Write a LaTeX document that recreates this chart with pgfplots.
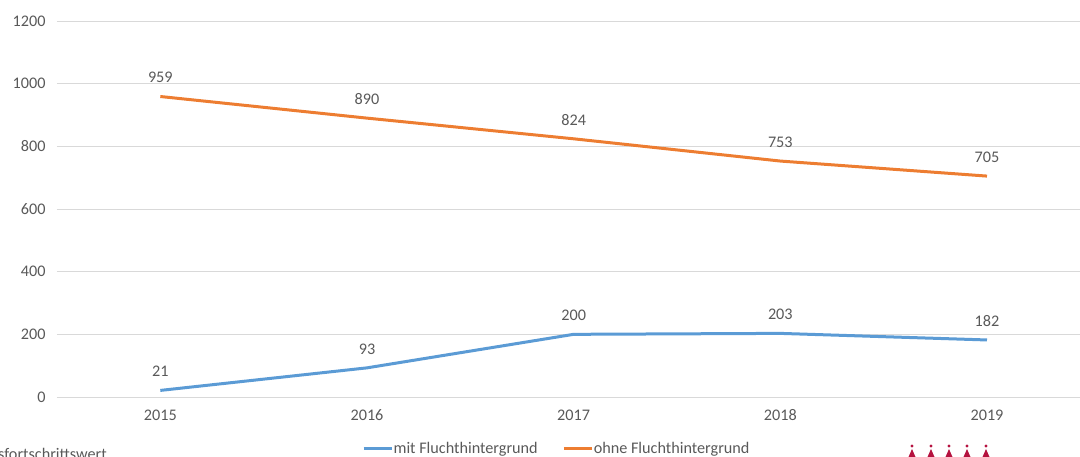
\documentclass[border=0pt]{standalone}
\usepackage{fontspec}
\setmainfont{Carlito}
\usepackage{pgfplots}
\pgfplotsset{compat=1.18}
\definecolor{cblue}{HTML}{5B9BD5}
\definecolor{corange}{HTML}{ED7D31}
\definecolor{tgray}{HTML}{595959}
\definecolor{ggray}{HTML}{D9D9D9}
\definecolor{cred}{HTML}{B5123F}
\begin{document}
\begin{tikzpicture}[x=1pt,y=1pt]
\useasboundingbox (0,0) rectangle (1080,457);
\clip (0,0) rectangle (1080,457);
\begin{axis}[at={(57pt,60pt)}, anchor=south west, scale only axis,
  width=1023pt, height=376pt,
  xmin=-0.5, xmax=4.45, ymin=0, ymax=1200,
  ytick={0,200,...,1200}, xtick={0,1,2,3,4},
  xticklabels={2015,2016,2017,2018,2019},
  ymajorgrids, grid style={ggray, line width=0.8pt},
  axis line style={draw=none}, tick style={draw=none},
  major tick length=0pt,
  /pgf/number format/1000 sep={},
  /pgf/number format/assume math mode=true,
  tick label style={font=\fontsize{16.2}{19}\selectfont, text=tgray},
  yticklabel style={xshift=-8pt},
  xticklabel style={yshift=-9pt},
  nodes near coords,
  every node near coord/.append style={font=\fontsize{16.2}{19}\selectfont, text=tgray, anchor=center, yshift=19pt},
  legend style={at={(0.298,-0.138)}, anchor=west, draw=none, fill=none,
    legend columns=2, font=\fontsize{16.2}{19}\selectfont, text=tgray,
    /tikz/every even column/.append style={column sep=24pt},
    inner sep=0pt, nodes={inner sep=0.5pt}},
  legend image code/.code={\draw[#1, line width=3pt] (0pt,0pt) -- (28pt,0pt);},
  legend cell align=left,
]
\addplot[cblue, line width=3pt, mark=none] coordinates {(0,21) (1,93) (2,200) (3,203) (4,182)};
\addlegendentry{mit Fluchthintergrund}
\addplot[corange, line width=3pt, mark=none] coordinates {(0,959) (1,890) (2,824) (3,753) (4,705)};
\addlegendentry{ohne Fluchthintergrund}
\end{axis}
\node[anchor=base west, inner sep=0pt, font=\fontsize{16.2}{19}\selectfont, text=tgray] at (-2,-3) {sfortschrittswert};
\foreach \xx in {912,931,949,967,986} {
  \fill[cred] (\xx,11) circle (1.6);
  \fill[cred] (\xx-3.5,0) -- (\xx,8) -- (\xx+3.5,0) -- cycle;
}
\end{tikzpicture}
\end{document}
